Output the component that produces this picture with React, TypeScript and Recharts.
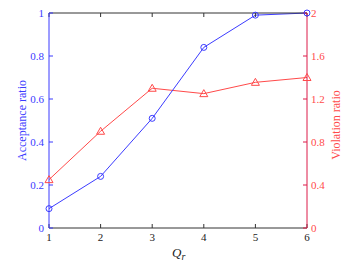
import { ComposedChart, Line, XAxis, YAxis } from "recharts";

const qr = [1, 2, 3, 4, 5, 6];
const acceptance = [0.09, 0.24, 0.51, 0.84, 0.99, 1.0];
const violation = [0.45, 0.9, 1.3, 1.25, 1.355, 1.4];
const leftTicks = [0, 0.2, 0.4, 0.6, 0.8, 1];
const rightTicks = [0, 0.4, 0.8, 1.2, 1.6, 2];

const data = qr.map((q, i) => ({ q, acc: acceptance[i], vio: violation[i] }));

const FONT = "'Liberation Serif', 'DejaVu Serif', serif";
const BLUE = "#3b3bff";
const RED = "#ff4a4a";
const AXIS_RED = "#dc1a48";

function Triangle(props: any) {
  const { cx, cy, index } = props;
  if (cx == null || cy == null) return null;
  const d = `M${cx},${cy - 4} L${cx + 4},${cy + 3} L${cx - 4},${cy + 3} Z`;
  return <path key={`tri-${index}`} d={d} fill="none" stroke={RED} strokeWidth={1} />;
}

const fmt = (v: number) => String(v);

export default function App() {
  return (
    <div style={{ position: "absolute", left: 0, top: 0, background: "#fff" }}>
      <ComposedChart
        width={357}
        height={268}
        data={data}
        margin={{ top: 8, right: 0, bottom: 0, left: 0 }}
        style={{ fontFamily: FONT }}
      >
        <XAxis
          dataKey="q"
          type="number"
          domain={[1, 6]}
          ticks={qr}
          interval={0}
          height={40}
          stroke="#333"
          tickSize={-4}
          tickMargin={9}
          tick={{ fill: "#222", fontSize: 11, fontFamily: FONT }}
          label={{
            content: () => (
              <text x={172} y={257} fontFamily={FONT} fontSize={13} fontStyle="italic" fill="#222">
                Q<tspan fontSize={10} dy={3}>r</tspan>
              </text>
            ),
          }}
        />
        <XAxis
          xAxisId="top"
          orientation="top"
          dataKey="q"
          type="number"
          domain={[1, 6]}
          ticks={qr}
          interval={0}
          height={5}
          stroke="#333"
          tickSize={-4}
          tickFormatter={() => ""}
        />
        <YAxis
          yAxisId="left"
          domain={[0, 1]}
          ticks={leftTicks}
          interval={0}
          width={49}
          stroke={BLUE}
          tickSize={-4}
          tickMargin={9}
          tickFormatter={fmt}
          tick={{ fill: BLUE, fontSize: 11, fontFamily: FONT }}
          label={{
            content: () => (
              <text
                x={26}
                y={120.5}
                transform="rotate(-90 26 120.5)"
                textAnchor="middle"
                fontFamily={FONT}
                fontSize={12}
                fill={BLUE}
              >
                Acceptance ratio
              </text>
            ),
          }}
        />
        <YAxis
          yAxisId="right"
          orientation="right"
          domain={[0, 2]}
          ticks={rightTicks}
          interval={0}
          width={50}
          stroke={AXIS_RED}
          tickSize={-4}
          tickMargin={8}
          tickFormatter={fmt}
          tick={{ fill: RED, fontSize: 11, fontFamily: FONT }}
          label={{
            content: () => (
              <text
                x={340}
                y={125}
                transform="rotate(-90 340 125)"
                textAnchor="middle"
                fontFamily={FONT}
                fontSize={12}
                fill={RED}
              >
                Violation ratio
              </text>
            ),
          }}
        />
        {/* invisible series so the top (box) axis gets drawn */}
        <Line
          xAxisId="top"
          yAxisId="left"
          dataKey="acc"
          stroke="none"
          dot={false}
          activeDot={false}
          isAnimationActive={false}
        />
        <Line
          yAxisId="right"
          dataKey="vio"
          type="linear"
          stroke={RED}
          strokeWidth={1}
          dot={<Triangle />}
          isAnimationActive={false}
        />
        <Line
          yAxisId="left"
          dataKey="acc"
          type="linear"
          stroke={BLUE}
          strokeWidth={1}
          dot={{ r: 3, fill: "none", stroke: BLUE, strokeWidth: 1 }}
          isAnimationActive={false}
        />
      </ComposedChart>
    </div>
  );
}
